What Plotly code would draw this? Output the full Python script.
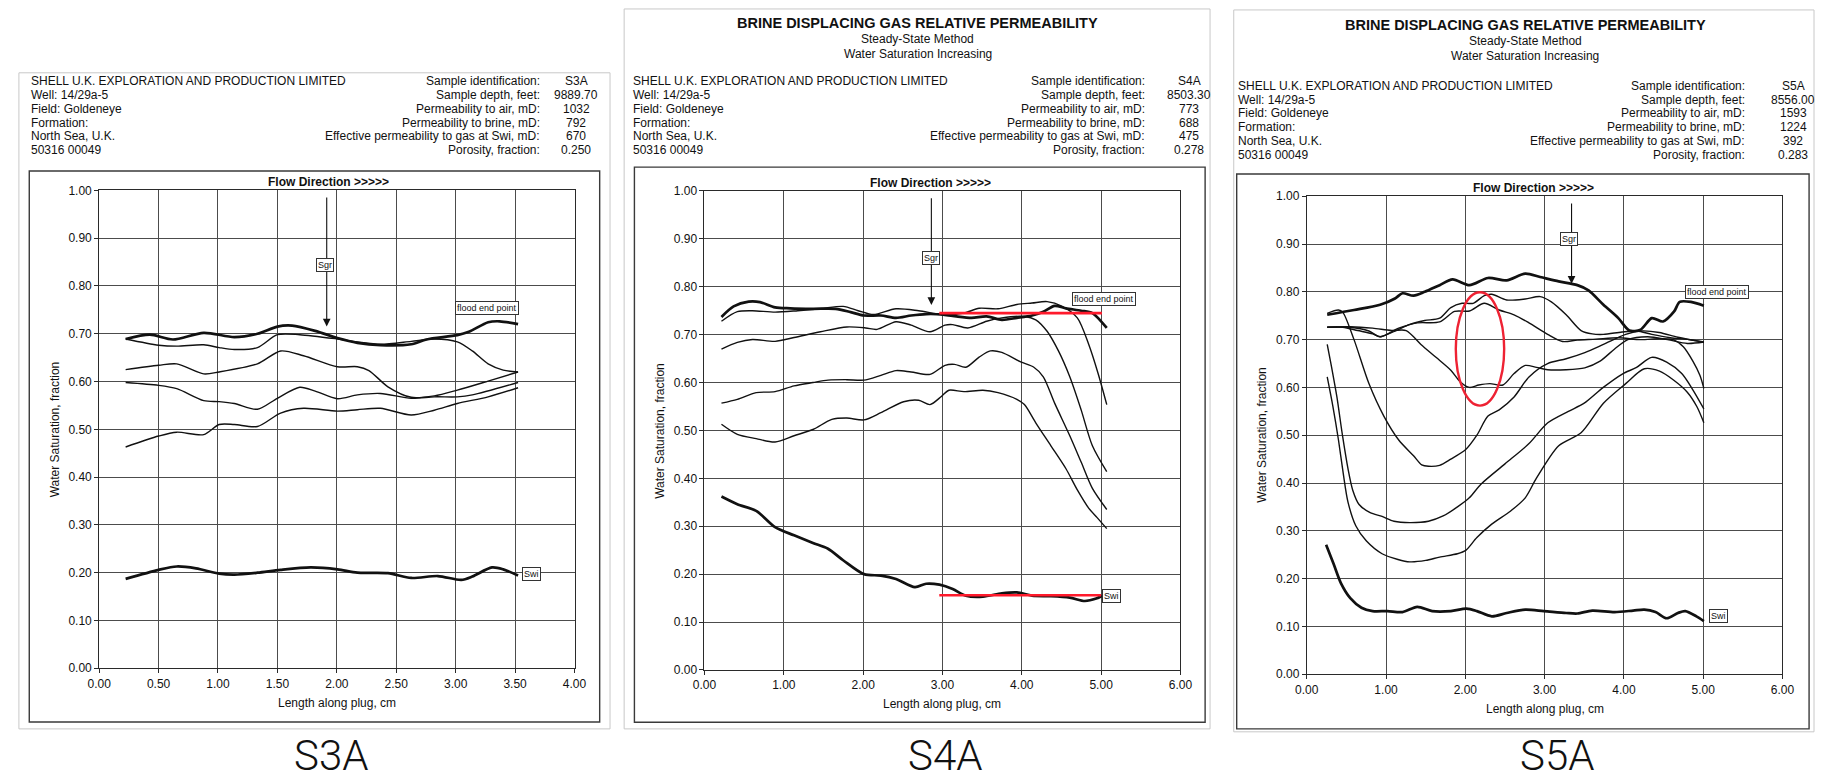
import plotly.graph_objects as go

W, H = 1827, 784

# ---------------- S3A : saturation profiles ----------------
S3A_A_X = [0.223, 0.427, 0.621, 0.880, 1.138, 1.332, 1.50, 1.624, 1.818, 2.005, 2.173, 2.367, 2.626, 2.755, 3.014, 3.111, 3.273, 3.37, 3.525]
S3A_A_Y = [0.689, 0.698, 0.688, 0.702, 0.693, 0.700, 0.715, 0.717, 0.706, 0.691, 0.681, 0.676, 0.678, 0.688, 0.697, 0.704, 0.724, 0.726, 0.720]
S3A_B_X = [0.223, 0.501, 0.653, 0.880, 1.01, 1.138, 1.332, 1.50, 1.688, 2.005, 2.173, 2.367, 2.626, 2.82, 3.014, 3.14, 3.273, 3.40, 3.525]
S3A_B_Y = [0.689, 0.676, 0.674, 0.677, 0.671, 0.667, 0.671, 0.698, 0.698, 0.689, 0.683, 0.678, 0.684, 0.689, 0.683, 0.664, 0.637, 0.624, 0.620]
S3A_C_X = [0.223, 0.501, 0.653, 0.880, 1.01, 1.332, 1.527, 1.72, 2.005, 2.173, 2.27, 2.43, 2.626, 2.82, 3.014, 3.273, 3.525]
S3A_C_Y = [0.625, 0.634, 0.637, 0.616, 0.620, 0.637, 0.664, 0.654, 0.631, 0.631, 0.623, 0.589, 0.567, 0.570, 0.582, 0.601, 0.620]
S3A_D_X = [0.223, 0.501, 0.653, 0.880, 1.01, 1.138, 1.332, 1.50, 1.688, 1.818, 2.005, 2.173, 2.367, 2.626, 2.82, 3.014, 3.14, 3.525]
S3A_D_Y = [0.598, 0.592, 0.585, 0.560, 0.558, 0.554, 0.542, 0.565, 0.588, 0.580, 0.564, 0.572, 0.575, 0.565, 0.568, 0.568, 0.572, 0.598]
S3A_E_X = [0.223, 0.501, 0.653, 0.880, 1.01, 1.138, 1.332, 1.527, 1.72, 2.005, 2.173, 2.367, 2.626, 2.82, 3.014, 3.273, 3.525]
S3A_E_Y = [0.463, 0.486, 0.494, 0.489, 0.510, 0.510, 0.506, 0.534, 0.544, 0.538, 0.541, 0.544, 0.530, 0.540, 0.554, 0.568, 0.587]
S3A_SWI_X = [0.223, 0.501, 0.653, 0.815, 1.01, 1.138, 1.332, 1.527, 1.78, 2.005, 2.173, 2.43, 2.626, 2.85, 3.047, 3.14, 3.305, 3.40, 3.525]
S3A_SWI_Y = [0.187, 0.206, 0.213, 0.209, 0.198, 0.196, 0.200, 0.206, 0.211, 0.207, 0.200, 0.199, 0.189, 0.193, 0.185, 0.192, 0.211, 0.207, 0.194]

# ---------------- S4A : saturation profiles ----------------
S4A_A_X = [0.214, 0.367, 0.557, 0.70, 0.89, 1.08, 1.367, 1.652, 1.843, 2.01, 2.224, 2.414, 2.605, 2.795, 3.01, 3.176, 3.367, 3.557, 3.748, 3.938, 4.129, 4.271, 4.414, 4.557, 4.748, 4.89, 5.071]
S4A_A_Y = [0.737, 0.759, 0.769, 0.768, 0.757, 0.755, 0.754, 0.754, 0.747, 0.740, 0.740, 0.735, 0.740, 0.743, 0.742, 0.738, 0.735, 0.738, 0.731, 0.735, 0.740, 0.748, 0.760, 0.755, 0.750, 0.745, 0.714]
S4A_B_X = [0.214, 0.414, 0.605, 0.89, 1.176, 1.462, 1.748, 1.938, 2.129, 2.414, 2.70, 3.01, 3.271, 3.462, 3.70, 3.938, 4.129, 4.319, 4.51, 4.70, 4.843, 4.962, 5.071]
S4A_B_Y = [0.728, 0.748, 0.750, 0.747, 0.750, 0.754, 0.759, 0.750, 0.742, 0.754, 0.750, 0.742, 0.745, 0.755, 0.754, 0.763, 0.766, 0.769, 0.759, 0.735, 0.680, 0.619, 0.554]
S4A_C_X = [0.214, 0.414, 0.605, 0.89, 1.129, 1.462, 1.795, 2.033, 2.176, 2.414, 2.605, 2.843, 3.033, 3.129, 3.319, 3.557, 3.748, 4.033, 4.176, 4.319, 4.462, 4.605, 4.748, 4.89, 5.071]
S4A_C_Y = [0.670, 0.684, 0.690, 0.686, 0.694, 0.706, 0.716, 0.714, 0.711, 0.727, 0.720, 0.706, 0.720, 0.721, 0.714, 0.728, 0.735, 0.738, 0.731, 0.707, 0.666, 0.612, 0.543, 0.468, 0.414]
S4A_D_X = [0.214, 0.414, 0.652, 0.89, 1.129, 1.367, 1.557, 1.795, 2.01, 2.224, 2.414, 2.605, 2.843, 3.033, 3.152, 3.295, 3.462, 3.605, 3.748, 3.986, 4.152, 4.271, 4.414, 4.605, 4.748, 4.89, 5.071]
S4A_D_Y = [0.557, 0.565, 0.579, 0.581, 0.593, 0.600, 0.605, 0.606, 0.605, 0.615, 0.625, 0.622, 0.617, 0.636, 0.638, 0.632, 0.653, 0.666, 0.663, 0.643, 0.632, 0.612, 0.557, 0.489, 0.434, 0.379, 0.335]
S4A_E_X = [0.214, 0.414, 0.652, 0.89, 1.129, 1.367, 1.605, 1.795, 2.01, 2.224, 2.51, 2.70, 2.843, 2.986, 3.081, 3.271, 3.51, 3.70, 3.938, 4.033, 4.176, 4.367, 4.557, 4.70, 4.843, 4.95, 5.071]
S4A_E_Y = [0.513, 0.492, 0.483, 0.476, 0.489, 0.502, 0.523, 0.526, 0.522, 0.537, 0.560, 0.563, 0.554, 0.571, 0.584, 0.581, 0.584, 0.579, 0.565, 0.554, 0.516, 0.468, 0.420, 0.376, 0.338, 0.318, 0.295]
S4A_SWI_X = [0.214, 0.414, 0.652, 0.89, 1.129, 1.367, 1.557, 1.748, 2.01, 2.224, 2.414, 2.652, 2.795, 2.962, 3.129, 3.295, 3.51, 3.748, 3.938, 4.129, 4.367, 4.605, 4.795, 4.938, 5.01]
S4A_SWI_Y = [0.362, 0.346, 0.332, 0.298, 0.281, 0.265, 0.253, 0.229, 0.200, 0.197, 0.190, 0.173, 0.180, 0.178, 0.169, 0.155, 0.153, 0.160, 0.162, 0.155, 0.154, 0.151, 0.144, 0.149, 0.155]

# ---------------- S5A : saturation profiles ----------------
S5A_A_X = [0.258, 0.596, 0.925, 1.113, 1.207, 1.347, 1.488, 1.676, 1.840, 2.052, 2.286, 2.521, 2.756, 2.944, 3.178, 3.413, 3.554, 3.742, 3.930, 4.070, 4.211, 4.352, 4.493, 4.634, 4.704, 4.845, 5.009]
S5A_A_Y = [0.752, 0.762, 0.773, 0.786, 0.797, 0.792, 0.800, 0.814, 0.826, 0.814, 0.829, 0.824, 0.838, 0.831, 0.822, 0.814, 0.803, 0.773, 0.745, 0.719, 0.721, 0.745, 0.738, 0.759, 0.779, 0.779, 0.771]
S5A_B_X = [0.258, 0.455, 0.643, 0.831, 0.925, 1.113, 1.30, 1.488, 1.676, 1.817, 1.958, 2.099, 2.239, 2.333, 2.521, 2.756, 2.944, 3.085, 3.272, 3.46, 3.601, 3.742, 3.977, 4.164, 4.352, 4.587, 4.822, 5.009]
S5A_B_Y = [0.726, 0.726, 0.719, 0.712, 0.706, 0.718, 0.732, 0.740, 0.745, 0.767, 0.776, 0.776, 0.792, 0.795, 0.783, 0.785, 0.790, 0.779, 0.752, 0.719, 0.712, 0.711, 0.716, 0.718, 0.711, 0.704, 0.700, 0.694]
S5A_C_X = [0.258, 0.549, 0.784, 0.925, 1.16, 1.394, 1.676, 1.864, 2.052, 2.239, 2.427, 2.615, 2.803, 3.038, 3.225, 3.413, 3.648, 3.93, 4.211, 4.446, 4.62, 4.75, 4.87, 4.96, 5.009]
S5A_C_Y = [0.726, 0.726, 0.718, 0.706, 0.724, 0.735, 0.737, 0.759, 0.760, 0.776, 0.762, 0.752, 0.735, 0.711, 0.696, 0.699, 0.701, 0.704, 0.700, 0.702, 0.700, 0.685, 0.655, 0.625, 0.598]
S5A_D_X = [0.258, 0.549, 0.831, 1.07, 1.254, 1.44, 1.63, 1.817, 1.934, 2.052, 2.17, 2.31, 2.474, 2.615, 2.756, 2.897, 3.038, 3.272, 3.507, 3.70, 3.88, 4.05, 4.3, 4.55, 4.8, 5.009]
S5A_D_Y = [0.726, 0.727, 0.724, 0.719, 0.719, 0.690, 0.663, 0.636, 0.612, 0.600, 0.605, 0.608, 0.605, 0.629, 0.646, 0.642, 0.637, 0.637, 0.641, 0.655, 0.680, 0.700, 0.706, 0.700, 0.692, 0.695]
S5A_F_X = [0.258, 0.40, 0.455, 0.596, 0.784, 0.972, 1.16, 1.347, 1.45, 1.535, 1.676, 1.817, 2.005, 2.146, 2.286, 2.427, 2.615, 2.803, 3.038, 3.272, 3.507, 3.742, 4.023, 4.211, 4.446, 4.681, 5.009]
S5A_F_Y = [0.755, 0.762, 0.757, 0.700, 0.608, 0.540, 0.490, 0.457, 0.438, 0.435, 0.437, 0.450, 0.470, 0.500, 0.540, 0.553, 0.580, 0.622, 0.650, 0.660, 0.673, 0.690, 0.711, 0.718, 0.715, 0.705, 0.695]
S5A_G_X = [0.258, 0.31, 0.38, 0.45, 0.52, 0.58, 0.66, 0.80, 0.95, 1.10, 1.30, 1.535, 1.72, 1.91, 2.05, 2.2, 2.5, 2.8, 3.04, 3.3, 3.5, 3.74, 3.98, 4.16, 4.35, 4.54, 4.73, 4.87, 5.009]
S5A_G_Y = [0.690, 0.645, 0.580, 0.500, 0.430, 0.385, 0.355, 0.338, 0.330, 0.320, 0.317, 0.320, 0.331, 0.351, 0.369, 0.398, 0.440, 0.482, 0.526, 0.550, 0.567, 0.600, 0.628, 0.642, 0.663, 0.653, 0.629, 0.595, 0.555]
S5A_H_X = [0.258, 0.33, 0.40, 0.46, 0.52, 0.62, 0.75, 0.95, 1.15, 1.30, 1.50, 1.676, 1.90, 2.005, 2.146, 2.333, 2.568, 2.756, 2.897, 3.178, 3.46, 3.742, 4.023, 4.258, 4.45, 4.63, 4.80, 4.92, 5.009]
S5A_H_Y = [0.622, 0.560, 0.490, 0.420, 0.360, 0.310, 0.279, 0.252, 0.240, 0.235, 0.238, 0.245, 0.252, 0.259, 0.286, 0.314, 0.341, 0.369, 0.410, 0.478, 0.505, 0.567, 0.608, 0.639, 0.634, 0.615, 0.590, 0.560, 0.526]
S5A_SWI_X = [0.244, 0.338, 0.432, 0.549, 0.69, 0.831, 1.019, 1.207, 1.394, 1.582, 1.817, 2.014, 2.146, 2.333, 2.521, 2.756, 2.991, 3.272, 3.413, 3.601, 3.883, 4.117, 4.258, 4.399, 4.54, 4.681, 4.775, 4.915, 5.009]
S5A_SWI_Y = [0.271, 0.231, 0.190, 0.159, 0.139, 0.132, 0.132, 0.130, 0.141, 0.132, 0.132, 0.137, 0.132, 0.121, 0.128, 0.135, 0.132, 0.128, 0.127, 0.133, 0.130, 0.133, 0.135, 0.130, 0.117, 0.128, 0.132, 0.121, 0.111]

# ---------------- header text ----------------
COMPANY_LINES = ["SHELL U.K. EXPLORATION AND PRODUCTION LIMITED", "Well: 14/29a-5", "Field: Goldeneye",
                 "Formation:", "North Sea, U.K.", "50316 00049"]
PROPERTY_LABELS = ["Sample identification:", "Sample depth, feet:", "Permeability to air, mD:",
                   "Permeability to brine, mD:", "Effective permeability to gas at Swi, mD:", "Porosity, fraction:"]
S3A_PROPS = ["S3A", "9889.70", "1032", "792", "670", "0.250"]
S4A_PROPS = ["S4A", "8503.30", "773", "688", "475", "0.278"]
S5A_PROPS = ["S5A", "8556.00", "1593", "1224", "392", "0.283"]
TITLE_LINES = ["BRINE DISPLACING GAS RELATIVE PERMEABILITY", "Steady-State Method", "Water Saturation Increasing"]

INK = "#111111"
GRID = "#4c4c4c"
FONT = "Liberation Sans, Arial, Helvetica, sans-serif"


def fx(p):
    return p / W


def fy(p):
    return 1 - p / H


panels = [
    dict(sfx="", xpx=(88.3, 570.0), ypx=(673.3, 186.7), xmax=4, dtick=0.5,
         curves=[(S3A_A_X, S3A_A_Y, True), (S3A_B_X, S3A_B_Y, False), (S3A_C_X, S3A_C_Y, False),
                 (S3A_D_X, S3A_D_Y, False), (S3A_E_X, S3A_E_Y, False), (S3A_SWI_X, S3A_SWI_Y, True)],
         outer=(7, 67, 606, 735), box=(17.5, 167, 595.5, 728),
         head_left=17.5, head_lab=537, head_val=572, head_top=75, props=S3A_PROPS, title=None,
         flow=(321, 178), tag="S3A", tag_pos=(323, 762),
         sgr=(1.915, 0.715, 1.90, 0.843), flood=(3.266, 0.753), swi=(3.64, 0.198)),
    dict(sfx="2", xpx=(701.7, 1184.0), ypx=(675.0, 187.3), xmax=6, dtick=1,
         curves=[(S4A_A_X, S4A_A_Y, True), (S4A_B_X, S4A_B_Y, False), (S4A_C_X, S4A_C_Y, False),
                 (S4A_D_X, S4A_D_Y, False), (S4A_E_X, S4A_E_Y, False), (S4A_SWI_X, S4A_SWI_Y, True)],
         outer=(620.3, 2, 1214, 735), box=(630.7, 163, 1209, 728.3),
         head_left=627, head_lab=1150, head_val=1193, head_top=75, props=S4A_PROPS, title=(918, 16),
         flow=(930.7, 179), tag="S4A", tag_pos=(945, 762),
         sgr=(2.86, 0.762, 2.85, 0.859), flood=(5.03, 0.775), swi=(5.13, 0.154)),
    dict(sfx="3", xpx=(1312.0, 1794.0), ypx=(679.3, 192.7), xmax=6, dtick=1,
         curves=[(S5A_A_X, S5A_A_Y, True), (S5A_B_X, S5A_B_Y, False), (S5A_C_X, S5A_C_Y, False),
                 (S5A_D_X, S5A_D_Y, False), (S5A_F_X, S5A_F_Y, False), (S5A_G_X, S5A_G_Y, False),
                 (S5A_H_X, S5A_H_Y, False), (S5A_SWI_X, S5A_SWI_Y, True)],
         outer=(1238, 3, 1826, 738), box=(1241, 170, 1821, 735),
         head_left=1240.7, head_lab=1758, head_val=1805, head_top=80, props=S5A_PROPS, title=(1533.6, 18),
         flow=(1541.5, 184.3), tag="S5A", tag_pos=(1566, 762),
         sgr=(3.34, 0.817, 3.31, 0.911), flood=(5.18, 0.800), swi=(5.19, 0.121)),
]

fig = go.Figure()
annotations = []
shapes = []
layout_axes = {}


def label(text, x, y, size=12, anchor="left", color=INK, family=FONT, weight=None):
    f = dict(family=family, size=size, color=color)
    if weight is not None:
        f["weight"] = weight
    annotations.append(dict(text=text, x=fx(x), y=fy(y), xref="paper", yref="paper",
                            xanchor=anchor, yanchor="middle", showarrow=False, font=f))


for p in panels:
    xa, ya = "x" + p["sfx"], "y" + p["sfx"]

    # page frame and chart frame
    ox0, oy0, ox1, oy1 = p["outer"]
    shapes.append(dict(type="rect", xref="paper", yref="paper", x0=fx(ox0), x1=fx(ox1), y0=fy(oy1), y1=fy(oy0),
                       line=dict(color="#c8c8c8", width=1), layer="below"))
    bx0, by0, bx1, by1 = p["box"]
    shapes.append(dict(type="rect", xref="paper", yref="paper", x0=fx(bx0), x1=fx(bx1), y0=fy(by1), y1=fy(by0),
                       line=dict(color="#3a3a3a", width=1.4), layer="below"))

    # axes
    layout_axes["xaxis" + p["sfx"]] = dict(
        domain=[fx(p["xpx"][0]), fx(p["xpx"][1])], anchor=ya, range=[0, p["xmax"]],
        dtick=p["dtick"], tick0=0, tickformat=".2f", showgrid=True, gridcolor=GRID, gridwidth=1,
        zeroline=False, showline=True, linecolor="#2a2a2a", linewidth=1, mirror=True,
        ticks="outside", ticklen=4, tickcolor="#2a2a2a",
        tickfont=dict(family=FONT, size=12, color=INK), fixedrange=True)
    layout_axes["yaxis" + p["sfx"]] = dict(
        domain=[fy(p["ypx"][0]), fy(p["ypx"][1])], anchor=xa, range=[0, 1],
        dtick=0.1, tick0=0, tickformat=".2f", showgrid=True, gridcolor=GRID, gridwidth=1,
        zeroline=False, showline=True, linecolor="#2a2a2a", linewidth=1, mirror=True,
        ticks="outside", ticklen=4, tickcolor="#2a2a2a",
        tickfont=dict(family=FONT, size=12, color=INK), fixedrange=True)

    # saturation profiles
    for xs, ys, thick in p["curves"]:
        fig.add_trace(go.Scatter(x=xs, y=ys, xaxis=xa, yaxis=ya, mode="lines",
                                 line=dict(color=INK, width=2.7 if thick else 1.4,
                                           shape="spline", smoothing=0.8),
                                 hoverinfo="skip", showlegend=False))

    # axis titles
    xmid = (p["xpx"][0] + p["xpx"][1]) / 2
    ymid = (p["ypx"][0] + p["ypx"][1]) / 2
    label("Length along plug, cm", xmid, p["ypx"][0] + 35, size=12, anchor="center")
    annotations.append(dict(text="Water Saturation, fraction", x=fx(p["xpx"][0] - 44.7), y=fy(ymid),
                            xref="paper", yref="paper", textangle=-90, showarrow=False,
                            xanchor="center", yanchor="middle",
                            font=dict(family=FONT, size=12, color=INK)))

    # header block
    if p["title"] is not None:
        tx, ty = p["title"]
        label("<b>" + TITLE_LINES[0] + "</b>", tx, ty, size=14.5, anchor="center")
        label(TITLE_LINES[1], tx, ty + 17, size=12, anchor="center")
        label(TITLE_LINES[2], tx, ty + 31.7, size=12, anchor="center")
    for i in range(6):
        yy = p["head_top"] + i * 14.2
        label(COMPANY_LINES[i], p["head_left"], yy)
        label(PROPERTY_LABELS[i], p["head_lab"], yy, anchor="right")
        label(p["props"][i], p["head_val"], yy, anchor="center")

    label("<b>Flow Direction &gt;&gt;&gt;&gt;&gt;</b>", p["flow"][0], p["flow"][1], size=12, anchor="center")

    # residual gas arrow and tags
    ax_x, tip_y, box_x, box_y = p["sgr"]
    annotations.append(dict(x=ax_x, y=tip_y, xref=xa, yref=ya, ax=ax_x, ay=0.988, axref=xa, ayref=ya,
                            text="", showarrow=True, arrowhead=2, arrowsize=1.4, arrowwidth=1.1,
                            arrowcolor=INK, standoff=0))
    tag_style = dict(showarrow=False, bgcolor="white", bordercolor="#333333", borderwidth=1, borderpad=1,
                     font=dict(family=FONT, size=9, color=INK), xanchor="center", yanchor="middle")
    annotations.append(dict(text="Sgr", x=box_x, y=box_y, xref=xa, yref=ya, **tag_style))
    annotations.append(dict(text="flood end point", x=p["flood"][0], y=p["flood"][1], xref=xa, yref=ya, **tag_style))
    annotations.append(dict(text="Swi", x=p["swi"][0], y=p["swi"][1], xref=xa, yref=ya, **tag_style))

    # sample caption below the page
    label(p["tag"], p["tag_pos"][0], p["tag_pos"][1], size=42, anchor="center",
          family="Roboto, Liberation Sans, sans-serif", weight=300, color="#111111")

# highlight marks on S4A and S5A
RED = "#ff1a2c"
shapes.append(dict(type="line", xref="x2", yref="y2", x0=2.96, x1=5.01, y0=0.745, y1=0.745,
                   line=dict(color=RED, width=2.6)))
shapes.append(dict(type="line", xref="x2", yref="y2", x0=2.96, x1=5.0, y0=0.156, y1=0.156,
                   line=dict(color=RED, width=2.6)))
shapes.append(dict(type="circle", xref="x3", yref="y3", x0=1.88, x1=2.49, y0=0.562, y1=0.799,
                   line=dict(color="#ee2233", width=2.4)))

fig.update_layout(
    width=W, height=H, margin=dict(l=0, r=0, t=0, b=0),
    paper_bgcolor="white", plot_bgcolor="white",
    showlegend=False, annotations=annotations, shapes=shapes,
    **layout_axes,
)

fig.write_html("out.html", config={"displayModeBar": False})
